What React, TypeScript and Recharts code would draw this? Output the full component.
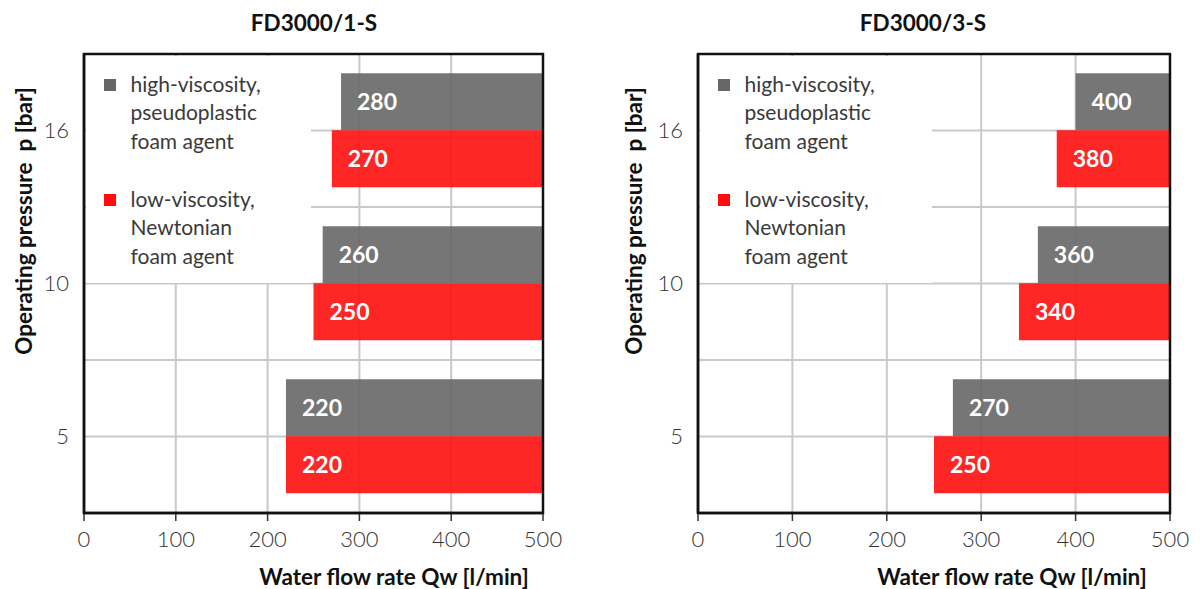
import React from 'react'
import {
  BarChart,
  Bar,
  XAxis,
  YAxis,
  CartesianGrid,
  LabelList,
  Legend,
} from 'recharts'

const FONT = 'Lato, "Open Sans", sans-serif'
const GRAY = '#676767'
const RED = '#ff0e0e'

const pressures = ['16', '10', '5']
const flowTicks = [0, 100, 200, 300, 400, 500]
const maxFlow = 500

// FD3000/1-S
const high1S = [280, 260, 220]
const low1S = [270, 250, 220]
// FD3000/3-S
const high3S = [400, 360, 270]
const low3S = [380, 340, 250]

const highName = 'high-viscosity,\npseudoplastic\nfoam agent'
const lowName = 'low-viscosity,\nNewtonian\nfoam agent'

const buildRows = (high: number[], low: number[]) =>
  pressures.map((p, i) => ({
    pressure: p,
    high: [high[i], maxFlow],
    low: [low[i], maxFlow],
    highStart: high[i],
    lowStart: low[i],
  }))

const LegendBox = ({ payload }: any) => {
  const items = payload || []
  return (
    <div style={{ position: 'relative', width: '100%', height: '100%', background: '#fff' }}>
      {items.map((item: any, i: number) => (
        <div key={item.value} style={{ position: 'absolute', left: 0, top: 14 + i * 115, width: '100%' }}>
          <div
            style={{
              position: 'absolute',
              left: 18,
              top: 9,
              width: 12,
              height: 12,
              background: item.color,
            }}
          />
          <div
            style={{
              position: 'absolute',
              left: 45,
              top: 0,
              whiteSpace: 'pre-line',
              fontFamily: FONT,
              fontSize: 21,
              lineHeight: '28.5px',
              color: '#3a3a3a',
            }}
          >
            {item.value}
          </div>
        </div>
      ))}
    </div>
  )
}

interface PanelProps {
  title: string
  high: number[]
  low: number[]
  left: number
  width: number
  plotLeft: number
  plotRight: number
  titleX: number
  axisTitleX: number
  yTitleX: number
  legendWidth: number
}

const PLOT_TOP = 54
const AXIS_HEIGHT = 76
const HEIGHT = 589
const LINE_W = 2.5
const FRAME = { stroke: '#111', strokeWidth: LINE_W }

function Panel(props: PanelProps) {
  const { title, high, low, left, width, plotLeft, plotRight, titleX, axisTitleX, yTitleX, legendWidth } = props
  const rows = buildRows(high, low)
  const margin = { top: PLOT_TOP, right: width - plotRight, bottom: 0, left: 0 }
  const plotBottom = HEIGHT - AXIS_HEIGHT

  return (
    <div style={{ position: 'absolute', left, top: 0, width, height: HEIGHT }}>
      <BarChart
        width={width}
        height={HEIGHT}
        data={rows}
        layout="vertical"
        margin={margin}
        barCategoryGap="12.5%"
        barGap={0}
      >
        <CartesianGrid
          stroke="#c9c9c9"
          strokeWidth={2}
          horizontalCoordinatesGenerator={({ offset }: any) => {
            const top = offset?.top ?? PLOT_TOP
            const h = offset?.height ?? plotBottom - PLOT_TOP
            return [1, 2, 3, 4, 5].map((i) => top + (h * i) / 6)
          }}
        />
        <XAxis
          type="number"
          domain={[0, maxFlow]}
          ticks={flowTicks}
          height={AXIS_HEIGHT}
          axisLine={FRAME}
          tickLine={{ stroke: '#333', strokeWidth: 1.5 }}
          tickSize={8}
          tickMargin={10}
          tick={{ fill: '#333', fontSize: 22, fontFamily: FONT, fontWeight: 300 }}
        />
        <YAxis
          type="category"
          dataKey="pressure"
          width={plotLeft}
          axisLine={FRAME}
          tickLine={false}
          tickSize={0}
          tickMargin={15}
          tick={{ fill: '#333', fontSize: 22, fontFamily: FONT, fontWeight: 300 }}
        />
        <Legend
          verticalAlign="middle"
          align="center"
          layout="horizontal"
          content={<LegendBox />}
          wrapperStyle={{ left: plotLeft + 1.5, top: PLOT_TOP + 1.5, width: legendWidth, height: 227, margin: 0 }}
        />
        <Bar dataKey="high" name={highName} fill={GRAY} fillOpacity={0.9} isAnimationActive={false}>
          <LabelList
            dataKey="highStart"
            position="insideLeft"
            offset={16}
            fill="#fff"
            style={{ fontFamily: FONT, fontWeight: 700, fontSize: 23 }}
          />
        </Bar>
        <Bar dataKey="low" name={lowName} fill={RED} fillOpacity={0.9} isAnimationActive={false}>
          <LabelList
            dataKey="lowStart"
            position="insideLeft"
            offset={16}
            fill="#fff"
            style={{ fontFamily: FONT, fontWeight: 700, fontSize: 23 }}
          />
        </Bar>
      </BarChart>

      {/* plot frame, laid over bars and legend box */}
      <svg
        width={width}
        height={HEIGHT}
        style={{ position: 'absolute', left: 0, top: 0, zIndex: 10, pointerEvents: 'none' }}
      >
        <rect
          x={plotLeft}
          y={PLOT_TOP}
          width={plotRight - plotLeft}
          height={plotBottom - PLOT_TOP}
          fill="none"
          stroke="#111"
          strokeWidth={LINE_W}
        />
      </svg>

      <div
        style={{
          position: 'absolute',
          left: titleX - left - 150,
          top: 9,
          width: 300,
          textAlign: 'center',
          fontFamily: FONT,
          fontWeight: 700,
          fontSize: 22.5,
          color: '#111',
        }}
      >
        {title}
      </div>
      <div
        style={{
          position: 'absolute',
          left: axisTitleX - left - 200,
          top: 563,
          width: 400,
          textAlign: 'center',
          fontFamily: FONT,
          fontWeight: 700,
          fontSize: 22.5,
          color: '#111',
          whiteSpace: 'nowrap',
        }}
      >
        Water flow rate Qw [l/min]
      </div>
      <div
        style={{
          position: 'absolute',
          left: yTitleX - left - 200,
          top: 221 - 14,
          width: 400,
          height: 28,
          lineHeight: '28px',
          textAlign: 'center',
          fontFamily: FONT,
          fontWeight: 700,
          fontSize: 22.5,
          color: '#111',
          whiteSpace: 'pre',
          transform: 'rotate(-90deg)',
        }}
      >
        {'Operating pressure  p [bar]'}
      </div>
    </div>
  )
}

export default function App() {
  return (
    <div style={{ position: 'fixed', left: 0, top: 0, width: 1203, height: 589, background: '#fff', overflow: 'hidden' }}>
      <Panel
        title="FD3000/1-S"
        high={high1S}
        low={low1S}
        left={0}
        width={600}
        plotLeft={84}
        plotRight={543}
        titleX={314}
        axisTitleX={394}
        yTitleX={24}
        legendWidth={225}
      />
      <Panel
        title="FD3000/3-S"
        high={high3S}
        low={low3S}
        left={600}
        width={603}
        plotLeft={98}
        plotRight={570}
        titleX={923}
        axisTitleX={1012}
        yTitleX={634}
        legendWidth={232}
      />
    </div>
  )
}
